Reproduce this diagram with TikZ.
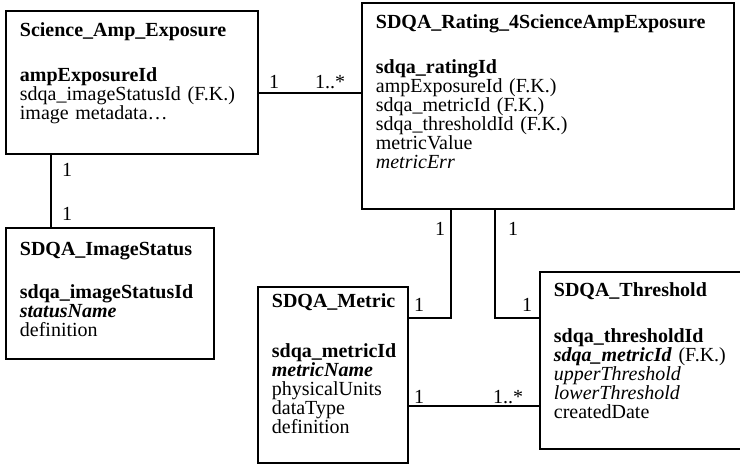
\documentclass[tikz,border=0pt]{standalone}
\usepackage{fontspec}
\setmainfont{Liberation Serif}
\usetikzlibrary{calc}

\tikzset{
    entity/.style={draw, line width=1.8pt, anchor=north west, align=left,
        inner xsep=14pt, inner ysep=0pt},
    link/.style={line width=1.8pt},
    mult/.style={inner sep=0pt}
}

\begin{document}
\begin{tikzpicture}[x=1pt, y=-1pt, font=\fontsize{20}{19}\selectfont]
    \useasboundingbox (0,0) rectangle (740,465);

    % tables
    \node[entity, text width=224pt, text height=26pt, text depth=117pt] (sae) at (5,10)
        {\textbf{Science\_Amp\_Exposure}\\[26pt]
         \textbf{ampExposureId}\\
         sdqa\_imageStatusId (F.K.)\\
         image metadata\ldots};
    \node[entity, text width=344pt, text height=26pt, text depth=180pt] (rating) at (361,2)
        {\textbf{SDQA\_Rating\_4ScienceAmpExposure}\\[26pt]
         \textbf{sdqa\_ratingId}\\
         ampExposureId (F.K.)\\
         sdqa\_metricId (F.K.)\\
         sdqa\_thresholdId (F.K.)\\
         metricValue\\
         \textit{metricErr}};
    \node[entity, text width=180pt, text height=28pt, text depth=103pt] (status) at (5,227)
        {\textbf{SDQA\_ImageStatus}\\[24pt]
         \textbf{sdqa\_imageStatusId}\\
         \textbf{\textit{statusName}}\\
         definition};
    \node[entity, text width=122pt, text height=21pt, text depth=155pt] (metric) at (257,286)
        {\textbf{SDQA\_Metric}\\[31pt]
         \textbf{sdqa\_metricId}\\
         \textbf{\textit{metricName}}\\
         physicalUnits\\
         dataType\\
         definition};
    \node[entity, text width=182pt, text height=25pt, text depth=152pt] (threshold) at (539,271)
        {\textbf{SDQA\_Threshold}\\[27pt]
         \textbf{sdqa\_thresholdId}\\
         \textbf{\textit{sdqa\_metricId}} (F.K.)\\
         \textit{upperThreshold}\\
         \textit{lowerThreshold}\\
         createdDate};

    % relations
    \draw[link] ([yshift=-10.5pt]sae.east) -- ([yshift=-10.5pt]sae.east -| rating.west);
    \draw[link] ([xshift=46pt]sae.south west) -- ([xshift=46pt]sae.south west |- status.north);
    \draw[link] ([yshift=57pt]metric.east) -| ([xshift=90pt]rating.south west);
    \draw[link] ([xshift=134pt]rating.south west) |- ([yshift=42.5pt]threshold.west);
    \draw[link] ([yshift=-31pt]metric.east) -- ([yshift=-31pt]metric.east -| threshold.west);

    % multiplicities
    \node[mult] (m1a) at (274,82) {1};
    \node[mult] (m1b) at (330,82) {1..*};
    \node[mult] (m2a) at (67,170) {1};
    \node[mult] (m2b) at (67,214) {1};
    \node[mult] (m3a) at (440,229) {1};
    \node[mult] (m3b) at (419,305) {1};
    \node[mult] (m4a) at (513,229) {1};
    \node[mult] (m4b) at (527,305) {1};
    \node[mult] (m5a) at (419,397) {1};
    \node[mult] (m5b) at (508,397) {1..*};
\end{tikzpicture}
\end{document}
